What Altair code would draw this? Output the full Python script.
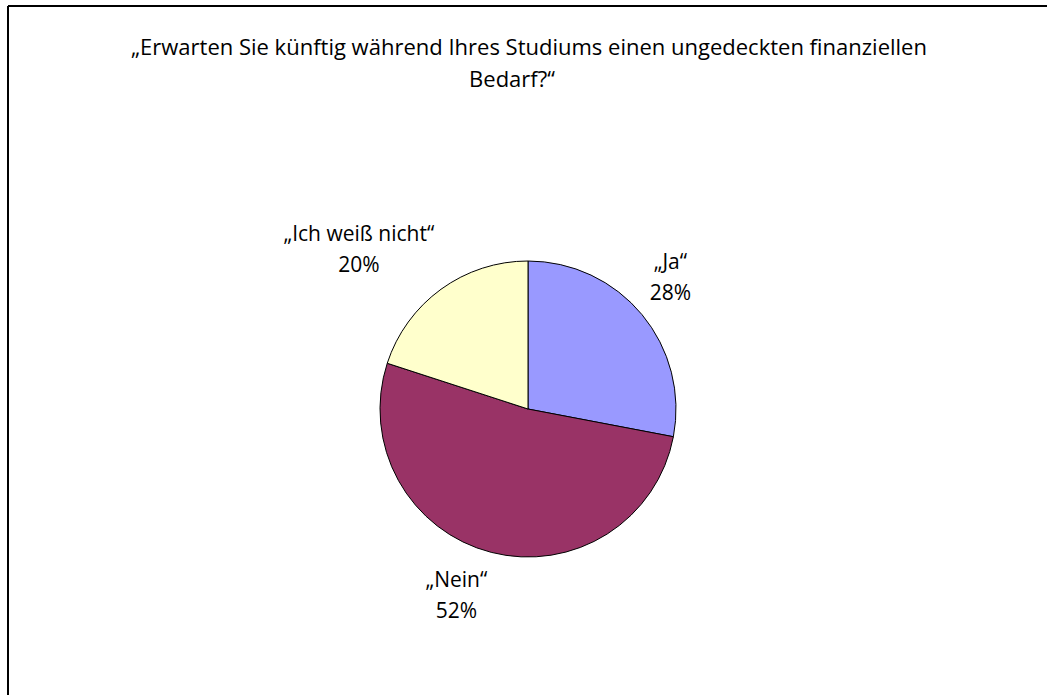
import altair as alt
import pandas as pd

categories = ["„Ja“", "„Nein“", "„Ich weiß nicht“"]
shares = [28, 52, 20]
colors = ["#9999FF", "#993366", "#FFFFCC"]
title_lines = ["„Erwarten Sie künftig während Ihres Studiums einen ungedeckten finanziellen", "Bedarf?“"]

df = pd.DataFrame({"cat": categories, "value": shares, "idx": list(range(len(categories)))})
df["pct"] = [f"{v}%" for v in shares]

W, H = 1039, 689
CX, CY, R = 520, 403, 148
FONT = "Open Sans"

base = alt.Chart(df)

pie = base.mark_arc(outerRadius=R, stroke="black", strokeWidth=1).encode(
    theta=alt.Theta("value:Q", stack=True),
    color=alt.Color("cat:N", scale=alt.Scale(domain=categories, range=colors), legend=None),
    order=alt.Order("idx:Q"),
    x=alt.value(CX), y=alt.value(CY),
)

lab_base = base.transform_window(
    cum="sum(value)", sort=[alt.SortField("idx")], frame=[None, 0]
).transform_calculate(
    mid="datum.cum - datum.value / 2",
    lines="[datum.cat, datum.pct]",
)

def label(cat, dx, dy, r=155):
    return lab_base.transform_filter(alt.datum.cat == cat).mark_text(
        align="center", baseline="middle", font=FONT, fontSize=21, lineHeight=31,
        radius=r, dx=dx, dy=dy, color="black",
    ).encode(
        theta=alt.Theta("mid:Q", scale=alt.Scale(domain=[0, sum(shares)]), stack=None),
        text="lines:N",
        x=alt.value(CX), y=alt.value(CY),
    )

labels = [
    label(categories[0], 23, -47),
    label(categories[1], -33, 22),
    label(categories[2], -78, -49),
]

tdf = pd.DataFrame({"t": title_lines})
def title_line(i, x, y):
    return alt.Chart(tdf).transform_filter(alt.datum.t == title_lines[i]).mark_text(
        font=FONT, fontSize=22, align="center", baseline="middle", color="black"
    ).encode(text="t:N", x=alt.value(x), y=alt.value(y))

title1 = title_line(0, 521, 42)
title2 = title_line(1, 504, 74)

left_rule = alt.Chart(tdf).mark_rule(color="black", strokeWidth=2).encode(
    x=alt.value(0), y=alt.value(0), y2=alt.value(H)
)
top_rule = alt.Chart(tdf).mark_rule(color="black", strokeWidth=2).encode(
    y=alt.value(0), x=alt.value(0), x2=alt.value(W)
)

chart = alt.layer(pie, *labels, title1, title2, left_rule, top_rule).properties(
    width=W, height=H,
    padding={"left": 8, "top": 6, "right": 0, "bottom": 0},
    autosize=alt.AutoSizeParams(type="none"),
    background="white",
).configure_view(stroke=None)

chart.save("out.html", embed_options={"renderer": "svg", "actions": False})
